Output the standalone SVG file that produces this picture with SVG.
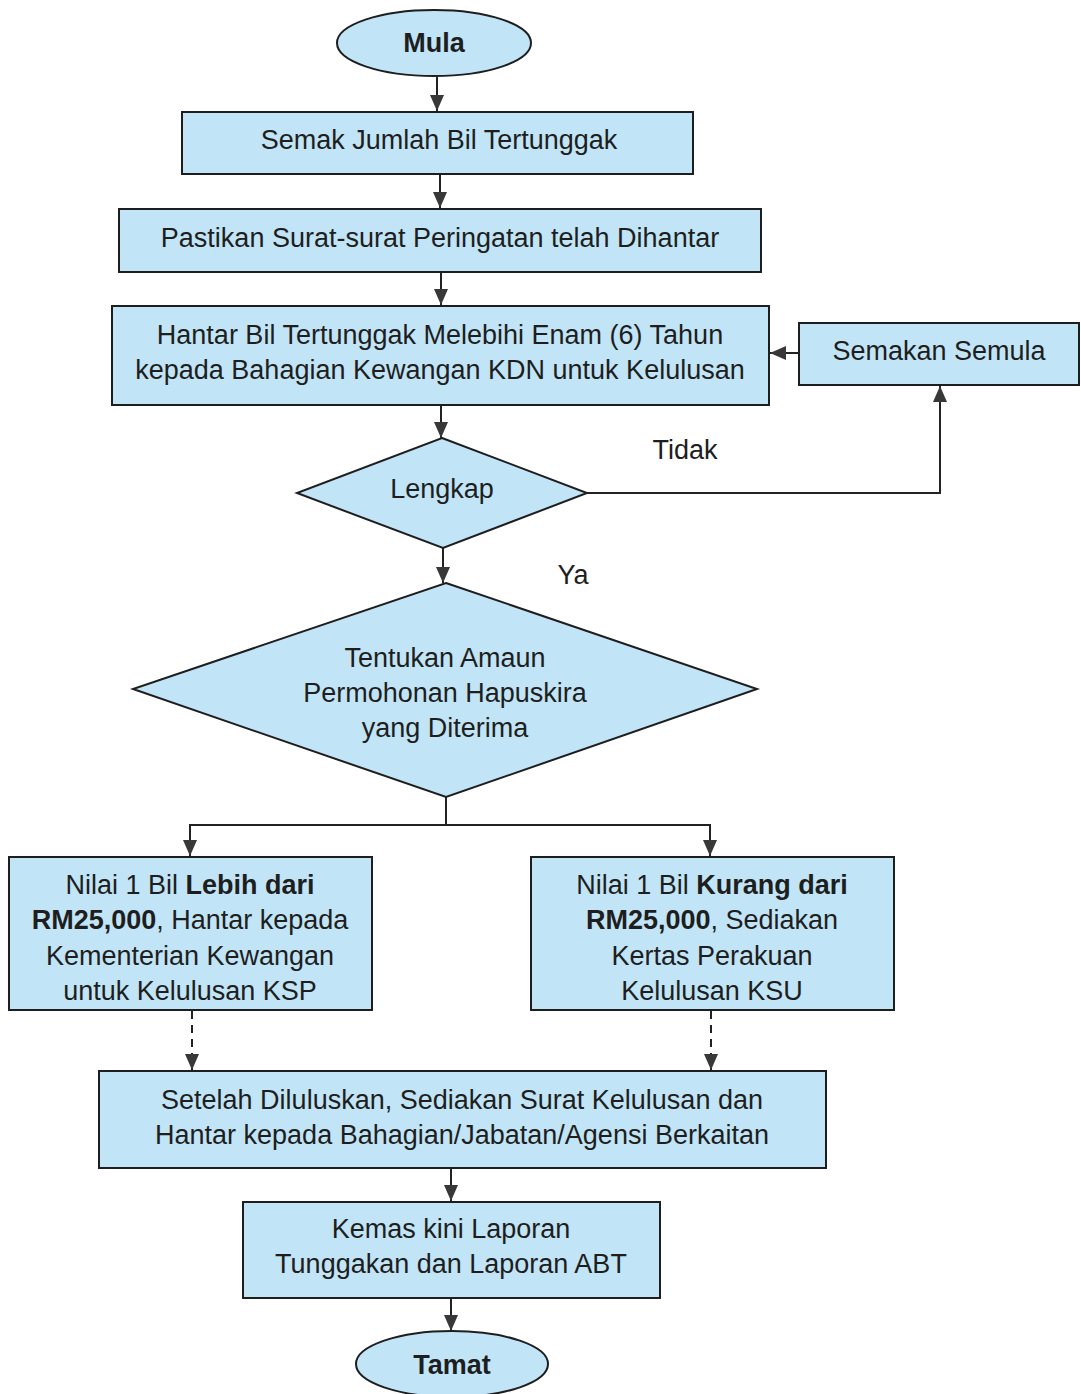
<svg xmlns="http://www.w3.org/2000/svg" width="1081" height="1394" viewBox="0 0 1081 1394">
<style>
.n{fill:#c1e5f6;stroke:#1e1e1e;stroke-width:2}
.t{font-family:"Liberation Sans",Arial,sans-serif;font-size:27px;fill:#1e1e1e;text-anchor:middle}
.b{font-weight:bold}
.c{fill:none;stroke:#222;stroke-width:2}
.d{stroke-dasharray:8 6}
</style>
<defs>
<marker id="a" viewBox="0 0 16 14" refX="16" refY="7" markerWidth="16" markerHeight="14" markerUnits="userSpaceOnUse" orient="auto">
<path d="M0,0 L16,7 L0,14 z" fill="#383838"/>
</marker>
</defs>
<rect width="1081" height="1394" fill="#fff"/>
<g id="connectors">
<line class="c" x1="437" y1="77" x2="437" y2="111" marker-end="url(#a)"/>
<line class="c" x1="440" y1="175" x2="440" y2="208" marker-end="url(#a)"/>
<line class="c" x1="441" y1="273" x2="441" y2="305" marker-end="url(#a)"/>
<line class="c" x1="799" y1="353" x2="770" y2="353" marker-end="url(#a)"/>
<line class="c" x1="441" y1="406" x2="441" y2="438" marker-end="url(#a)"/>
<polyline class="c" points="587,493 940,493 940,386" marker-end="url(#a)"/>
<line class="c" x1="443" y1="548" x2="443" y2="583" marker-end="url(#a)"/>
<polyline class="c" points="446,797 446,825 190,825 190,856" marker-end="url(#a)"/>
<polyline class="c" points="446,825 710,825 710,856" marker-end="url(#a)"/>
<line class="c d" x1="192" y1="1011" x2="192" y2="1070" marker-end="url(#a)"/>
<line class="c d" x1="711" y1="1011" x2="711" y2="1070" marker-end="url(#a)"/>
<line class="c" x1="451" y1="1169" x2="451" y2="1201" marker-end="url(#a)"/>
<line class="c" x1="451" y1="1299" x2="451" y2="1331" marker-end="url(#a)"/>
<text class="t" x="685" y="459">Tidak</text>
<text class="t" x="573" y="584">Ya</text>
</g>
<g id="mula">
<ellipse class="n" cx="434" cy="43" rx="97" ry="33"/>
<text class="t b" x="434" y="52">Mula</text>
</g>
<g id="semak">
<rect class="n" x="182" y="112" width="511" height="62"/>
<text class="t" x="439" y="149">Semak Jumlah Bil Tertunggak</text>
</g>
<g id="pastikan">
<rect class="n" x="119" y="209" width="642" height="63"/>
<text class="t" x="440" y="247">Pastikan Surat-surat Peringatan telah Dihantar</text>
</g>
<g id="hantar">
<rect class="n" x="112" y="306" width="657" height="99"/>
<text class="t" x="440" y="344">Hantar Bil Tertunggak Melebihi Enam (6) Tahun</text>
<text class="t" x="440" y="379">kepada Bahagian Kewangan KDN untuk Kelulusan</text>
</g>
<g id="semakan-semula">
<rect class="n" x="799" y="323" width="280" height="62"/>
<text class="t" x="939" y="360">Semakan Semula</text>
</g>
<g id="lengkap">
<polygon class="n" points="442,438 587,493 443,548 297,493"/>
<text class="t" x="442" y="498">Lengkap</text>
</g>
<g id="tentukan">
<polygon class="n" points="446,583 757,689 446,797 133,689"/>
<text class="t" x="445" y="667">Tentukan Amaun</text>
<text class="t" x="445" y="702">Permohonan Hapuskira</text>
<text class="t" x="445" y="737">yang Diterima</text>
</g>
<g id="lebih">
<rect class="n" x="9" y="857" width="363" height="153"/>
<text class="t" x="190" y="894">Nilai 1 Bil <tspan class="b">Lebih dari</tspan></text>
<text class="t" x="190" y="929"><tspan class="b">RM25,000</tspan>, Hantar kepada</text>
<text class="t" x="190" y="965">Kementerian Kewangan</text>
<text class="t" x="190" y="1000">untuk Kelulusan KSP</text>
</g>
<g id="kurang">
<rect class="n" x="531" y="857" width="363" height="153"/>
<text class="t" x="712" y="894">Nilai 1 Bil <tspan class="b">Kurang dari</tspan></text>
<text class="t" x="712" y="929"><tspan class="b">RM25,000</tspan>, Sediakan</text>
<text class="t" x="712" y="965">Kertas Perakuan</text>
<text class="t" x="712" y="1000">Kelulusan KSU</text>
</g>
<g id="setelah">
<rect class="n" x="99" y="1071" width="727" height="97"/>
<text class="t" x="462" y="1109">Setelah Diluluskan, Sediakan Surat Kelulusan dan</text>
<text class="t" x="462" y="1144">Hantar kepada Bahagian/Jabatan/Agensi Berkaitan</text>
</g>
<g id="kemas">
<rect class="n" x="243" y="1202" width="417" height="96"/>
<text class="t" x="451" y="1238">Kemas kini Laporan</text>
<text class="t" x="451" y="1273">Tunggakan dan Laporan ABT</text>
</g>
<g id="tamat">
<ellipse class="n" cx="452" cy="1364" rx="96" ry="33"/>
<text class="t b" x="452" y="1374">Tamat</text>
</g>
</svg>
